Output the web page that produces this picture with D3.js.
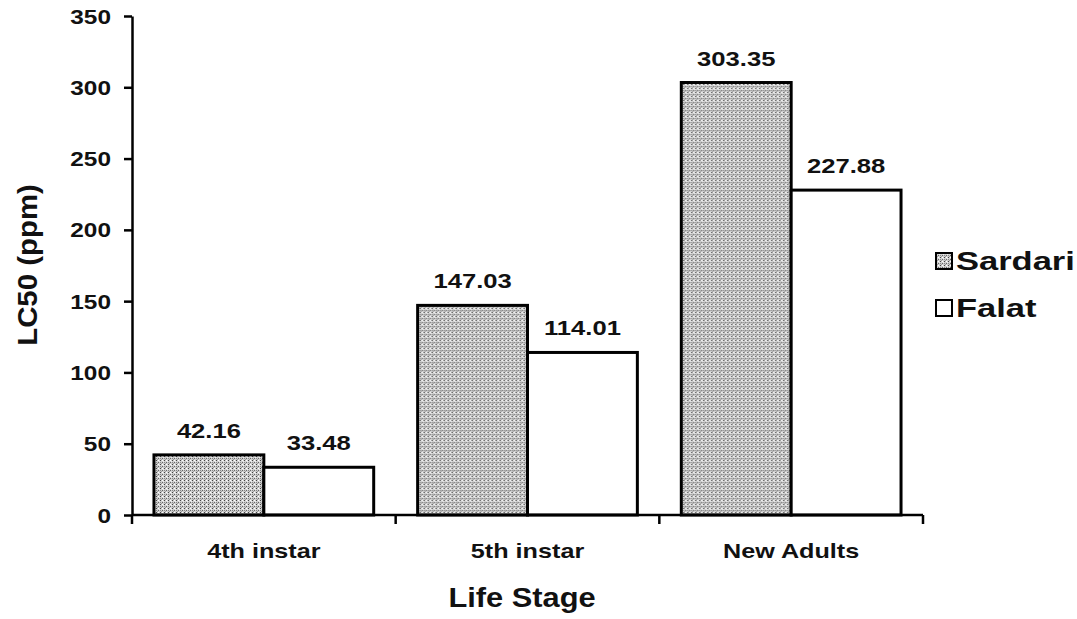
<!DOCTYPE html>
<html>
<head>
    <script src="https://cdnjs.cloudflare.com/ajax/libs/d3/7.8.5/d3.min.js"></script>
    <style>
        body { margin: 0; background: #fff; }
        svg text { font-family: "Liberation Sans", Arial, sans-serif; font-weight: bold; fill: #111; }
    </style>
</head>
<body>
    <div id="chart"></div>
    <script>
        // Data
        const stages = ["4th instar", "5th instar", "New Adults"];
        const series = ["Sardari", "Falat"];
        const sardari = [42.16, 147.03, 303.35];
        const falat = [33.48, 114.01, 227.88];
        const yTicks = [0, 50, 100, 150, 200, 250, 300, 350];

        const width = 1077, height = 619;
        const stretch = 1.22; // the scanned text is wider than plain Arial

        const svg = d3.select("#chart").append("svg")
            .attr("width", width)
            .attr("height", height);

        // Stipple pattern for the Sardari bars
        const pat = svg.append("defs").append("pattern")
            .attr("id", "stipple")
            .attr("patternUnits", "userSpaceOnUse")
            .attr("width", 4).attr("height", 4);
        pat.append("rect").attr("width", 4).attr("height", 4).attr("fill", "#cfcfcf");
        const dots = [[0, 0, "#444"], [2, 2, "#666"], [2, 0, "#fff"], [0, 2, "#888"], [1, 3, "#999"], [3, 1, "#eee"]];
        dots.forEach(d => pat.append("rect")
            .attr("x", d[0]).attr("y", d[1])
            .attr("width", 1).attr("height", 1)
            .attr("fill", d[2]));

        const x0 = d3.scaleBand()
            .domain(stages)
            .range([132, 923])
            .paddingInner(0)
            .paddingOuter(0);

        const x1 = d3.scaleBand()
            .domain(series)
            .range([0, x0.bandwidth()])
            .paddingInner(0)
            .paddingOuter(0.2);

        const y = d3.scaleLinear()
            .domain([0, 350])
            .range([515, 16]);

        const fills = { "Sardari": "url(#stipple)", "Falat": "#fff" };
        const values = { "Sardari": sardari, "Falat": falat };

        // Bars
        const groups = svg.append("g")
            .selectAll("g")
            .data(stages)
            .enter()
            .append("g")
            .attr("transform", d => `translate(${x0(d)},0)`);

        groups.selectAll("rect")
            .data((d, i) => series.map(s => ({ s: s, v: values[s][i] })))
            .enter()
            .append("rect")
            .attr("x", d => x1(d.s))
            .attr("y", d => y(d.v))
            .attr("width", x1.bandwidth())
            .attr("height", d => y(0) - y(d.v))
            .attr("fill", d => fills[d.s])
            .attr("stroke", "#000")
            .attr("stroke-width", 3);

        // Value labels
        groups.selectAll("text")
            .data((d, i) => series.map(s => ({ s: s, v: values[s][i] })))
            .enter()
            .append("text")
            .attr("transform", d => `translate(${x1(d.s) + x1.bandwidth() / 2},${y(d.v) - 17}) scale(${stretch},1)`)
            .attr("text-anchor", "middle")
            .attr("font-size", 21)
            .text(d => d.v.toFixed(2));

        // Y axis
        const yAxis = svg.append("g")
            .attr("transform", "translate(132,0)")
            .call(d3.axisLeft(y).tickValues(yTicks).tickSize(8).tickSizeOuter(0).tickPadding(0));
        yAxis.select(".domain").attr("stroke", "#000").attr("stroke-width", 2.5);
        yAxis.selectAll(".tick line").attr("stroke", "#000").attr("stroke-width", 2.5);
        yAxis.selectAll(".tick text")
            .attr("x", null)
            .attr("dy", "0.35em")
            .attr("font-size", 20)
            .attr("transform", `translate(-21,0) scale(${stretch},1)`);

        // X axis line with ticks at category boundaries
        svg.append("line")
            .attr("x1", x0.range()[0]).attr("x2", x0.range()[1])
            .attr("y1", y(0)).attr("y2", y(0))
            .attr("stroke", "#000").attr("stroke-width", 2.5);
        const bounds = stages.map(d => x0(d)).concat([x0.range()[1]]);
        svg.append("g").selectAll("line")
            .data(bounds)
            .enter()
            .append("line")
            .attr("x1", d => d).attr("x2", d => d)
            .attr("y1", y(0)).attr("y2", y(0) + 9)
            .attr("stroke", "#000").attr("stroke-width", 2.5);

        // Category labels
        svg.append("g").selectAll("text")
            .data(stages)
            .enter()
            .append("text")
            .attr("transform", d => `translate(${x0(d) + x0.bandwidth() / 2},558) scale(1.26,1)`)
            .attr("text-anchor", "middle")
            .attr("font-size", 20)
            .text(d => d);

        // Axis titles
        svg.append("text")
            .attr("transform", `translate(522,607) scale(1.1,1)`)
            .attr("text-anchor", "middle")
            .attr("font-size", 28)
            .text("Life Stage");

        svg.append("text")
            .attr("transform", `translate(37,265) rotate(-90) scale(1.05,1)`)
            .attr("text-anchor", "middle")
            .attr("font-size", 28)
            .text("LC50 (ppm)");

        // Legend
        const legend = svg.append("g")
            .selectAll("g")
            .data(series)
            .enter()
            .append("g")
            .attr("transform", (d, i) => `translate(936,${253 + i * 47})`);
        legend.append("rect")
            .attr("width", 16).attr("height", 16)
            .attr("fill", d => fills[d])
            .attr("stroke", "#000").attr("stroke-width", 2);
        legend.append("text")
            .attr("transform", `translate(20,17) scale(1.38,1)`)
            .attr("font-size", 25)
            .text(d => d);
    </script>
</body>
</html>
